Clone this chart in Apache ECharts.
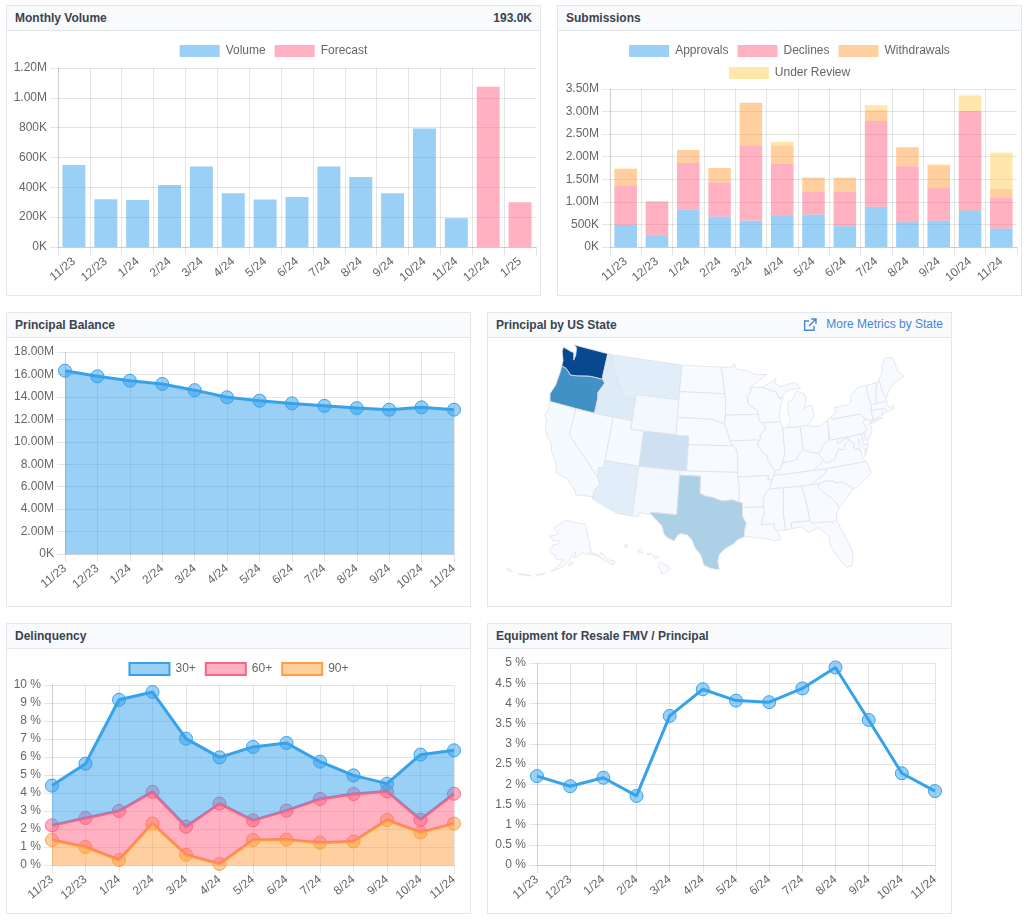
<!DOCTYPE html>
<html>
<head>
<meta charset="utf-8">
<title>Portfolio dashboard</title>
<script src="https://cdn.jsdelivr.net/npm/echarts@6/dist/echarts.min.js"></script>
<style>
  html, body { margin: 0; padding: 0; background: #fff; font-family: "Liberation Sans", Arial, sans-serif; }
  .card { position: absolute; box-sizing: border-box; border: 1px solid #e3e6ea; background: #fff; }
  .head { height: 25px; box-sizing: border-box; border-bottom: 1px solid #e3e6ea; background: #f8fafc;
          padding: 0 8px; line-height: 24px; font-size: 12px; font-weight: bold; color: #3b4351; position: relative; }
  .head .right { position: absolute; right: 8px; top: 0; }
  .head .link { position: absolute; right: 8px; top: -1px; font-weight: normal; color: #4a86d8; }
  .head svg { position: absolute; right: 134px; top: 5px; }
</style>
</head>
<body>
<div class="card" style="left:6px;top:5px;width:535px;height:291px">
  <div class="head">Monthly Volume<span class="right">193.0K</span></div>
</div>
<div class="card" style="left:557px;top:5px;width:465px;height:291px">
  <div class="head">Submissions</div>
</div>
<div class="card" style="left:6px;top:312px;width:465px;height:295px">
  <div class="head">Principal Balance</div>
</div>
<div class="card" style="left:487px;top:312px;width:465px;height:295px">
  <div class="head">Principal by US State
    <svg width="14" height="14" viewBox="0 0 14 14" fill="none" stroke="#4a86d8" stroke-width="1.4">
      <path d="M11 8v4.2H1.6V3H6M8 1h5v5M13 1L6 8"/>
    </svg>
    <span class="link">More Metrics by State</span>
  </div>
</div>
<div class="card" style="left:6px;top:623px;width:465px;height:291px">
  <div class="head">Delinquency</div>
</div>
<div class="card" style="left:487px;top:623px;width:465px;height:291px">
  <div class="head">Equipment for Resale FMV / Principal</div>
</div>

<script>
// Values
const volumeMonths = ['11/23', '12/23', '1/24', '2/24', '3/24', '4/24', '5/24', '6/24', '7/24', '8/24', '9/24', '10/24', '11/24', '12/24', '1/25'];
const volumeValues = [550000, 320000, 315000, 415000, 540000, 360000, 318000, 335000, 540000, 470000, 360000, 795000, 193000, null, null];
const forecastValues = [null, null, null, null, null, null, null, null, null, null, null, null, null, 1075000, 300000];

const months = ['11/23', '12/23', '1/24', '2/24', '3/24', '4/24', '5/24', '6/24', '7/24', '8/24', '9/24', '10/24', '11/24'];
const approvals = [490000, 260000, 830000, 675000, 585000, 705000, 720000, 460000, 890000, 550000, 585000, 810000, 410000];
const declines = [874000, 750000, 1030000, 755000, 1665000, 1135000, 510000, 770000, 1905000, 1240000, 720000, 2200000, 680000];
const withdrawals = [363000, 0, 290000, 320000, 945000, 410000, 310000, 305000, 235000, 420000, 505000, 0, 200000];
const underReview = [13000, 0, 0, 0, 0, 80000, 0, 0, 110000, 0, 20000, 350000, 800000];

const principalBalance = [16330000, 15830000, 15440000, 15150000, 14600000, 13960000, 13660000, 13420000, 13200000, 13000000, 12860000, 13070000, 12860000];

const delinquency30 = [4.41, 5.63, 9.18, 9.61, 7.02, 5.98, 6.56, 6.78, 5.74, 4.98, 4.52, 6.13, 6.37];
const delinquency60 = [2.2, 2.61, 3.0, 4.06, 2.13, 3.41, 2.48, 3.02, 3.67, 3.94, 4.09, 2.52, 3.96];
const delinquency90 = [1.39, 1.0, 0.28, 2.3, 0.57, 0.06, 1.39, 1.41, 1.24, 1.31, 2.5, 1.81, 2.3];

const resaleRatio = [2.2, 1.95, 2.16, 1.71, 3.69, 4.35, 4.07, 4.03, 4.37, 4.89, 3.59, 2.27, 1.83];

const stateCodes = ['WA', 'OR', 'TX', 'CO', 'ID', 'MT', 'AZ', 'NV', 'UT', 'WY', 'CA', 'NM'];
const stateShare = [91, 63, 33, 21, 13, 11, 11, 1, 1, 2, 1, 2];

const blueScale = ['#f7fbff', '#deebf7', '#c6dbef', '#9ecae1', '#6baed6', '#4292c6', '#2171b5', '#08519c', '#08306b'];

// Rough state outlines, "lon lat" with west longitude positive, | starts another polygon
const stateOutlines = {
  WA: '124.7 48.4,123.2 48.15,122.75 48.15,122.4 47.3,122.3 47.9,122.5 48.75,123 49,117.03 49,117.04 46.42,116.92 45.99,118.98 46,119.6 45.92,121.2 45.65,122.3 45.55,122.8 45.9,123.3 46.15,124.05 46.27,124.1 46.9,124.7 47.9',
  OR: '124.05 46.27,123.3 46.15,122.8 45.9,122.3 45.55,121.2 45.65,119.6 45.92,118.98 46,116.92 45.99,116.46 45.6,116.9 44.9,117.22 44.4,117.03 43.8,117.03 42,124.2 42,124.55 42.85,124.1 44,124 45.5',
  CA: '124.2 42,120 42,120 39,114.63 35,114.14 34.3,114.72 33.4,114.72 32.72,117.12 32.53,117.3 33,118.4 33.75,118.5 34.03,119.2 34.15,120.5 34.45,120.65 35.15,121.9 36.6,122 36.96,122.5 37.75,123 38,123.75 39,123.85 39.85,124.35 40.3,124.1 41',
  NV: '120 42,114.04 42,114.04 36.2,114.75 36.1,114.63 35,120 39',
  ID: '117.03 49,116.05 49,116.05 48,115.7 47.45,114.7 46.7,114.35 46.65,114.55 45.55,113.95 45.7,113.45 44.95,113 44.45,111.05 44.47,111.05 42,117.03 42,117.03 43.8,117.22 44.4,116.9 44.9,116.46 45.6,116.92 45.99,117.04 46.42',
  MT: '116.05 49,104.05 49,104.05 45,111.05 45,111.05 44.47,113 44.45,113.45 44.95,113.95 45.7,114.55 45.55,114.35 46.65,114.7 46.7,115.7 47.45,116.05 48',
  WY: '111.05 45,104.05 45,104.05 41,111.05 41',
  UT: '114.04 42,111.05 42,111.05 41,109.05 41,109.05 37,114.04 37',
  CO: '109.05 41,102.05 41,102.05 37,109.05 37',
  AZ: '114.04 37,109.05 37,109.05 31.33,111.07 31.33,114.81 32.5,114.72 32.72,114.72 33.4,114.14 34.3,114.63 35,114.75 36.1,114.04 36.2',
  NM: '109.05 37,103 37,103.04 32,106.62 32,106.53 31.78,108.2 31.78,108.2 31.33,109.05 31.33',
  ND: '104.05 49,97.23 49,96.85 47.5,96.56 45.94,104.05 45.94',
  SD: '104.05 45.94,96.56 45.94,96.45 45.3,96.45 43.5,96.6 42.5,97.9 42.8,98.5 43,104.05 43',
  NE: '104.05 43,98.5 43,97.9 42.8,96.6 42.5,96.1 41.6,95.77 40.58,95.3 40,102.05 40,102.05 41,104.05 41',
  KS: '102.05 40,95.3 40,94.9 39.8,94.6 39.1,94.62 37,102.05 37',
  OK: '103 37,94.62 37,94.62 36.5,94.43 35.4,94.48 33.64,95.5 33.9,96.5 33.78,97.2 33.85,98.1 34.13,99.2 34.3,100 34.56,100 36.5,103.04 36.5',
  TX: '103.04 36.5,100 36.5,100 34.56,99.2 34.3,98.1 34.13,97.2 33.85,96.5 33.78,95.5 33.9,94.48 33.64,94.04 33.55,94.04 33,94.04 32,93.55 31.2,93.85 30.3,93.85 29.7,94.7 29.4,95.3 28.9,96.4 28.35,97.15 27.7,97.35 26.9,97.15 25.96,97.6 25.95,98.3 26.1,99.1 26.4,99.5 27.5,100.3 28.3,100.8 29.25,101.4 29.77,102.3 29.88,102.7 29.7,103.15 28.98,104 29.3,104.5 29.65,104.9 30.6,106 31.4,106.53 31.78,106.62 32,103.04 32',
  MN: '97.23 49,95.15 49,95.15 49.38,94.8 49.3,94.6 48.72,93 48.6,91.4 48.07,89.5 48,92.05 46.75,92.3 46.65,92.3 46.1,92.85 45.6,92.75 44.75,91.25 43.85,91.22 43.5,96.45 43.5,96.45 45.3,96.56 45.94,96.85 47.5',
  IA: '96.45 43.5,91.22 43.5,91.1 42.75,90.64 42.5,90.15 41.8,91.05 41.2,91.1 40.7,91.42 40.38,91.7 40.6,95.77 40.58,96.1 41.6,96.6 42.5',
  MO: '95.77 40.58,91.7 40.6,91.42 40.38,91.5 40,90.7 39,90.15 38.8,90.2 38.4,89.5 37.3,89.15 37,89.4 36.5,89.7 36,90.37 36,90.15 36.5,94.62 36.5,94.62 37,94.6 39.1,94.9 39.8,95.3 40',
  AR: '94.62 36.5,90.15 36.5,90.37 36,89.7 36,90.1 35,90.6 34.7,91.1 33.95,91.17 33,94.04 33,94.04 33.55,94.48 33.64,94.43 35.4',
  LA: '94.04 33,91.17 33,91 32.4,91.6 31,89.73 31,89.85 30.67,89.5 30.2,89.4 30,89 29.2,90 29.1,91.3 29.4,92.3 29.55,93.85 29.7,93.85 30.3,93.55 31.2,94.04 32',
  WI: '92.3 46.65,90.4 46.55,88.1 45.9,87.6 45.1,87 45.3,87.55 44.3,87.9 43.2,87.8 42.5,90.64 42.5,91.1 42.75,91.22 43.5,91.25 43.85,92.75 44.75,92.85 45.6,92.3 46.1',
  IL: '90.64 42.5,87.8 42.5,87.53 41.75,87.53 39.35,87.6 38.7,88.05 37.8,88.45 37.1,89.15 37,89.5 37.3,90.2 38.4,90.15 38.8,90.7 39,91.5 40,91.42 40.38,91.1 40.7,91.05 41.2,90.15 41.8',
  IN: '87.53 41.75,87.2 41.76,84.8 41.72,84.8 39.1,85.4 38.7,86 38,87 37.9,88.05 37.8,87.6 38.7,87.53 39.35',
  MI: '86.8 41.76,84.8 41.72,83.45 41.72,83.1 42.2,82.5 42.65,82.45 43,82.6 43.9,83.4 43.95,83.9 43.65,83.3 44.8,83.45 45.35,84.75 45.78,85.6 44.8,86.25 44.7,86.5 43.6,86.2 42.7|90.4 46.55,89 47,87.9 47.45,88.2 46.95,87.4 46.5,85 46.77,84.4 46.5,84 46,85.5 46.05,86.5 45.85,87.6 45.1,88.1 45.9',
  OH: '84.8 41.72,83.45 41.72,82.7 41.48,81.6 41.5,80.52 42,80.52 40.64,80.85 39.7,81.75 39.25,82.2 38.6,82.6 38.45,83.65 38.65,84.8 39.1',
  KY: '89.4 36.5,89.15 37,88.45 37.1,88.05 37.8,87 37.9,86 38,85.4 38.7,84.8 39.1,83.65 38.65,82.6 38.45,81.97 37.54,83.67 36.6,88.05 36.5',
  TN: '89.4 36.5,88.05 36.5,83.67 36.6,81.68 36.59,82 36.1,84.3 35,85.6 35,88.2 35,90.1 35,89.7 36',
  WV: '82.6 38.45,82.2 38.6,81.75 39.25,80.85 39.7,80.52 40.64,80.52 39.72,79.48 39.72,79.48 39.2,78.45 39.55,77.83 39.6,77.73 39.32,78.35 39,78.9 38.4,79.6 38.5,80.3 37.5,81.68 37.2,81.97 37.54',
  VA: '83.67 36.6,81.97 37.54,81.68 37.2,80.3 37.5,79.6 38.5,78.9 38.4,78.35 39,77.73 39.32,77.05 38.85,77.3 38.4,76.3 37.9,76.3 37,75.95 36.55,81.68 36.59|75.95 37.15,75.65 37.95,75.25 38.03',
  NC: '81.68 36.59,75.87 36.55,75.5 35.25,76.5 34.65,77.9 33.9,78.55 33.87,79.67 34.8,80.8 34.82,81.05 35.1,82.3 35.2,83.1 35,84.3 35,82 36.1',
  SC: '83.1 35,82.3 35.2,81.05 35.1,80.8 34.82,79.67 34.8,78.55 33.87,79.2 33.2,80.85 32.05,81.4 33,82.6 33.95,83.35 34.7',
  GA: '85.6 35,84.3 35,83.1 35,83.35 34.7,82.6 33.95,81.4 33,80.85 32.05,81.2 31.5,81.45 30.72,82.05 30.36,82.2 30.57,84.86 30.7,85 31,85.18 32.87',
  FL: '87.6 31,85 31,84.86 30.7,82.2 30.57,82.05 30.36,81.45 30.72,81 29.5,80.55 28.4,80.05 26.9,80.15 25.75,80.4 25.2,81.1 25.13,81.8 26.1,82.7 27.7,82.75 28.9,83.7 29.9,84 30.1,85.3 29.68,86.3 30.4,87.5 30.3',
  AL: '88.2 35,85.6 35,85.18 32.87,85 31,87.6 31,87.5 30.3,88 30.25,88.4 30.2,88.47 31.9',
  MS: '90.1 35,88.2 35,88.47 31.9,88.4 30.2,89.5 30.2,89.85 30.67,89.73 31,91.6 31,91 32.4,91.17 33,91.1 33.95,90.6 34.7',
  PA: '80.52 42,79.76 42.27,79.76 42,75.35 42,74.7 41.35,75.13 40.95,74.72 40.15,75.42 39.8,75.79 39.72,80.52 39.72',
  NY: '79.76 42.27,79.76 42,75.35 42,74.7 41.35,73.9 41,73.65 41,73.5 41.3,73.5 42.05,73.27 42.75,73.4 43.6,73.35 45,74.7 45,76.3 44.2,76.2 43.55,76.8 43.3,79.05 43.27,78.9 42.85|74 40.6,72 41,73.7 40.9',
  NJ: '75.13 40.95,74.7 41.35,73.9 41,74.25 40.5,74 40.3,74.1 39.75,74.9 38.95,75.5 39.5,74.72 40.15',
  DE: '75.79 39.72,75.42 39.8,75.05 38.45,75.7 38.46',
  MD: '79.48 39.72,75.79 39.72,75.7 38.46,75.05 38.45,75.25 38.03,75.9 37.95,76.2 38.6,76.3 39.3,76.5 38.5,76.3 38,77.3 38.4,77.05 38.85,77.73 39.32,77.83 39.6,78.45 39.55,79.48 39.2',
  CT: '73.65 41,71.85 41.32,71.8 42.02,73.5 42.05,73.5 41.3',
  RI: '71.85 41.32,71.2 41.5,71.38 42.02,71.8 42.02',
  MA: '73.5 42.05,71.8 42.02,71.38 42.02,71.2 41.5,70.65 41.55,70 41.65,70 42.05,70.55 41.85,71 42.3,70.65 42.65,70.85 42.87,71.3 42.7,72.46 42.73,73.27 42.75',
  VT: '73.27 42.75,72.46 42.73,72.05 44,71.5 45.01,73.35 45,73.4 43.6',
  NH: '72.46 42.73,71.3 42.7,70.85 42.87,70.7 43.07,71 43.6,71.08 45.3,71.5 45.01,72.05 44',
  ME: '70.7 43.07,71 43.6,71.08 45.3,70.3 45.9,70 46.7,69.23 47.46,68.3 47.35,67.8 47.07,67.78 45.7,67 44.85,68.8 44.4,70 43.75',
  AK: '141 69.6,141 60.3,139 60,137.5 58.9,135.5 59.8,133 57,130 55.9,131.5 55,134 56.5,136.5 58.1,139.5 59.6,142 60,144.5 60.2,146.5 60.9,148.5 60,151.5 59.2,150 61.2,151.5 60.8,153 59.4,154.5 58.2,157 56.8,160 55.7,163.2 54.8,161 56,158 58,157.2 58.8,159 58.6,162 59,162 60,165 60.6,166 61.6,164.5 63,161 63.6,161 64.6,165 64.5,168 65.6,163 66.4,162 67,166.5 68.3,162 70,156.5 71.3,152 70.8,146 70.1|154.5 57.5,152.2 58.2,152.5 57.5,154 56.8|166 54,167 53.4,170 52.8,168 53.4|172 52.2,175 51.9,178 51.7,176 52.1|181 51.6,183 51.5,184 52,182 51.9',
  HI: '155.9 20.25,155.1 19.85,154.8 19.5,155.65 18.95,156.05 19.75|156.7 20.95,156.25 20.95,156 20.75,156.4 20.58|157.3 21.2,156.75 21.17,156.75 21.1,157.25 21.1|158.25 21.55,157.95 21.7,157.65 21.3,158.1 21.3|159.75 22.1,159.4 22.2,159.35 21.95,159.6 21.9'
};

const geoFeatures = Object.keys(stateOutlines).map(function (code) {
  const polygons = stateOutlines[code].split('|').map(function (ring) {
    const points = ring.split(',').map(function (pair) {
      const p = pair.split(' ');
      return [-parseFloat(p[0]), parseFloat(p[1])];
    });
    points.push(points[0]);
    return [points];
  });
  return {
    type: 'Feature',
    properties: { name: code },
    geometry: { type: 'MultiPolygon', coordinates: polygons }
  };
});
echarts.registerMap('usa', { type: 'FeatureCollection', features: geoFeatures });

// Albers conic, same idea as an Albers USA composite
function conic(lon0, lat0, par1, par2) {
  const rad = Math.PI / 180;
  const s1 = Math.sin(par1 * rad);
  const n = (s1 + Math.sin(par2 * rad)) / 2;
  const c = 1 + s1 * (2 * n - s1);
  const r0 = Math.sqrt(c - 2 * n * Math.sin(lat0 * rad)) / n;
  return function (lon, lat) {
    const r = Math.sqrt(c - 2 * n * Math.sin(lat * rad)) / n;
    const t = (lon - lon0) * rad * n;
    return [r * Math.sin(t), -(r0 - r * Math.cos(t))];
  };
}
const lower48 = conic(-96, 38.7, 29.5, 45.5);
const alaska = conic(-154, 63, 55, 65);
const hawaii = conic(-157, 20.5, 8, 18);
const usProjection = {
  project: function (p) {
    let q;
    if (p[1] >= 50) {
      q = alaska(p[0], p[1]);
      return [q[0] * 0.4 - 0.319, q[1] * 0.4 + 0.195];
    }
    if (p[1] < 23 && p[0] < -150) {
      q = hawaii(p[0], p[1]);
      return [q[0] * 1.15 - 0.158, q[1] * 1.15 + 0.225];
    }
    q = lower48(p[0], p[1]);
    return [q[0], q[1] * 1.1];
  },
  unproject: function (p) { return p; }
};

const FONT = '"Liberation Sans", Arial, sans-serif';
const GRID_COLOR = 'rgba(0,0,0,0.1)';
const BLUE = '#36a2eb', PINK = '#ff6384', ORANGE = '#ff9f40';
const BLUE_FILL = 'rgba(54,162,235,0.5)', PINK_FILL = 'rgba(255,99,132,0.5)';
const ORANGE_FILL = 'rgba(255,159,64,0.5)', YELLOW_FILL = 'rgba(255,205,86,0.5)';

function moneyLabel(v) {
  if (v === 0) return '0K';
  return v >= 1000000 ? (v / 1000000).toFixed(2) + 'M' : (v / 1000) + 'K';
}
function percentLabel(v) { return v + ' %'; }

function xAxis(categories, isBar) {
  return {
    type: 'category',
    data: categories,
    boundaryGap: isBar,
    axisLine: { show: true, lineStyle: { color: GRID_COLOR } },
    axisTick: { show: true, length: 8, interval: 0, lineStyle: { color: GRID_COLOR } },
    axisLabel: { interval: 0, rotate: 40, margin: 13, fontSize: 12, color: '#666', fontFamily: FONT },
    splitLine: { show: true, interval: 0, showMaxLine: !isBar, lineStyle: { color: GRID_COLOR } }
  };
}
function yAxis(max, interval, formatter) {
  return {
    type: 'value',
    min: 0,
    max: max,
    interval: interval,
    axisLine: { show: true, lineStyle: { color: GRID_COLOR } },
    axisTick: { show: true, length: 8, lineStyle: { color: GRID_COLOR } },
    axisLabel: { margin: 11, fontSize: 12, color: '#666', fontFamily: FONT, formatter: formatter },
    splitLine: { show: true, lineStyle: { color: GRID_COLOR } }
  };
}
function legendBox(top, names) {
  return {
    top: top, left: 'center', icon: 'rect', itemWidth: 40, itemHeight: 12, itemGap: 9,
    selectedMode: false, data: names,
    textStyle: { fontSize: 12, color: '#666', fontFamily: FONT, padding: [0, 0, 0, 1] }
  };
}
function barSeries(name, values, fill) {
  return { name: name, type: 'bar', stack: 'all', barWidth: '72%', data: values, itemStyle: { color: fill } };
}
function lineSeries(name, values, stroke, fill, area) {
  const s = {
    name: name, type: 'line', data: values, symbol: 'circle', symbolSize: 13, smooth: false,
    lineStyle: { color: stroke, width: 3 },
    itemStyle: { color: fill, borderColor: stroke, borderWidth: 1, opacity: 1 },
    emphasis: { disabled: true }
  };
  if (area) s.areaStyle = { color: fill, opacity: 1 };
  return s;
}
function mount(left, top, width, height, option) {
  const el = document.createElement('div');
  el.style.cssText = 'position:absolute;left:' + left + 'px;top:' + top + 'px;width:' + width + 'px;height:' + height + 'px';
  document.body.appendChild(el);
  const chart = echarts.init(el);
  chart.setOption(Object.assign({ animation: false, textStyle: { fontFamily: FONT } }, option));
  return chart;
}
function gridBox(x0, y0, x1, y1, w, h) {
  return { left: x0, top: y0, right: w - x1, bottom: h - y1, outerBoundsMode: 'none' };
}

// Monthly Volume
mount(6, 31, 535, 265, {
  legend: legendBox(9, ['Volume', 'Forecast']),
  grid: gridBox(52, 37, 530, 216, 535, 265),
  xAxis: xAxis(volumeMonths, true),
  yAxis: yAxis(1200000, 200000, moneyLabel),
  series: [barSeries('Volume', volumeValues, BLUE_FILL), barSeries('Forecast', forecastValues, PINK_FILL)]
});

// Submissions
mount(557, 31, 465, 265, {
  legend: [
    legendBox(9, ['Approvals', 'Declines', 'Withdrawals']),
    legendBox(31, ['Under Review'])
  ],
  grid: gridBox(53, 58, 460, 216, 465, 265),
  xAxis: xAxis(months, true),
  yAxis: yAxis(3500000, 500000, moneyLabel),
  series: [
    barSeries('Approvals', approvals, BLUE_FILL),
    barSeries('Declines', declines, PINK_FILL),
    barSeries('Withdrawals', withdrawals, ORANGE_FILL),
    barSeries('Under Review', underReview, YELLOW_FILL)
  ]
});

// Principal Balance
mount(6, 338, 465, 269, {
  grid: gridBox(59, 14, 448, 216, 465, 269),
  xAxis: xAxis(months, false),
  yAxis: yAxis(18000000, 2000000, moneyLabel),
  series: [lineSeries('Principal', principalBalance, BLUE, BLUE_FILL, true)]
});

// Principal by US State
mount(487, 338, 465, 269, {
  visualMap: { show: false, min: 0, max: 100, seriesIndex: 0, inRange: { color: blueScale } },
  series: [{
    type: 'map',
    map: 'usa',
    projection: usProjection,
    left: 20, top: 7, width: 397, height: 231,
    roam: false,
    silent: true,
    selectedMode: false,
    label: { show: false },
    itemStyle: { areaColor: '#f7fbff', borderColor: '#dfe2e5', borderWidth: 0.8 },
    data: Object.keys(stateOutlines).map(function (code) {
      const i = stateCodes.indexOf(code);
      return { name: code, value: i >= 0 ? stateShare[i] : 0 };
    })
  }]
});

// Delinquency: the filled bands sit between the three curves, so they are stacked.
// Rising z keeps each band above the curve below it, the way the reference layers them.
function bandBetween(upper, lower) {
  return upper.map(function (v, i) { return +(v - lower[i]).toFixed(2); });
}
function stackedLine(name, values, stroke, fill, z) {
  const s = lineSeries(name + ' band', values, stroke, fill, true);
  s.stack = 'delinquency';
  s.z = z;
  return s;
}
function legendOnly(name, stroke, fill) {
  return { name: name, type: 'bar', data: [], itemStyle: { color: fill, borderColor: stroke, borderWidth: 3 } };
}
mount(6, 649, 465, 265, {
  legend: legendBox(8, ['30+', '60+', '90+']),
  grid: gridBox(46, 36, 448, 216, 465, 265),
  xAxis: xAxis(months, false),
  yAxis: yAxis(10, 1, percentLabel),
  series: [
    stackedLine('90+', delinquency90, ORANGE, ORANGE_FILL, 2),
    stackedLine('60+', bandBetween(delinquency60, delinquency90), PINK, PINK_FILL, 3),
    stackedLine('30+', bandBetween(delinquency30, delinquency60), BLUE, BLUE_FILL, 4),
    legendOnly('30+', BLUE, BLUE_FILL),
    legendOnly('60+', PINK, PINK_FILL),
    legendOnly('90+', ORANGE, ORANGE_FILL)
  ]
});

// Equipment for Resale FMV / Principal
mount(487, 649, 465, 265, {
  grid: gridBox(50, 14, 448, 216, 465, 265),
  xAxis: xAxis(months, false),
  yAxis: yAxis(5, 0.5, percentLabel),
  series: [lineSeries('Resale', resaleRatio, BLUE, BLUE_FILL, false)]
});
</script>
</body>
</html>
